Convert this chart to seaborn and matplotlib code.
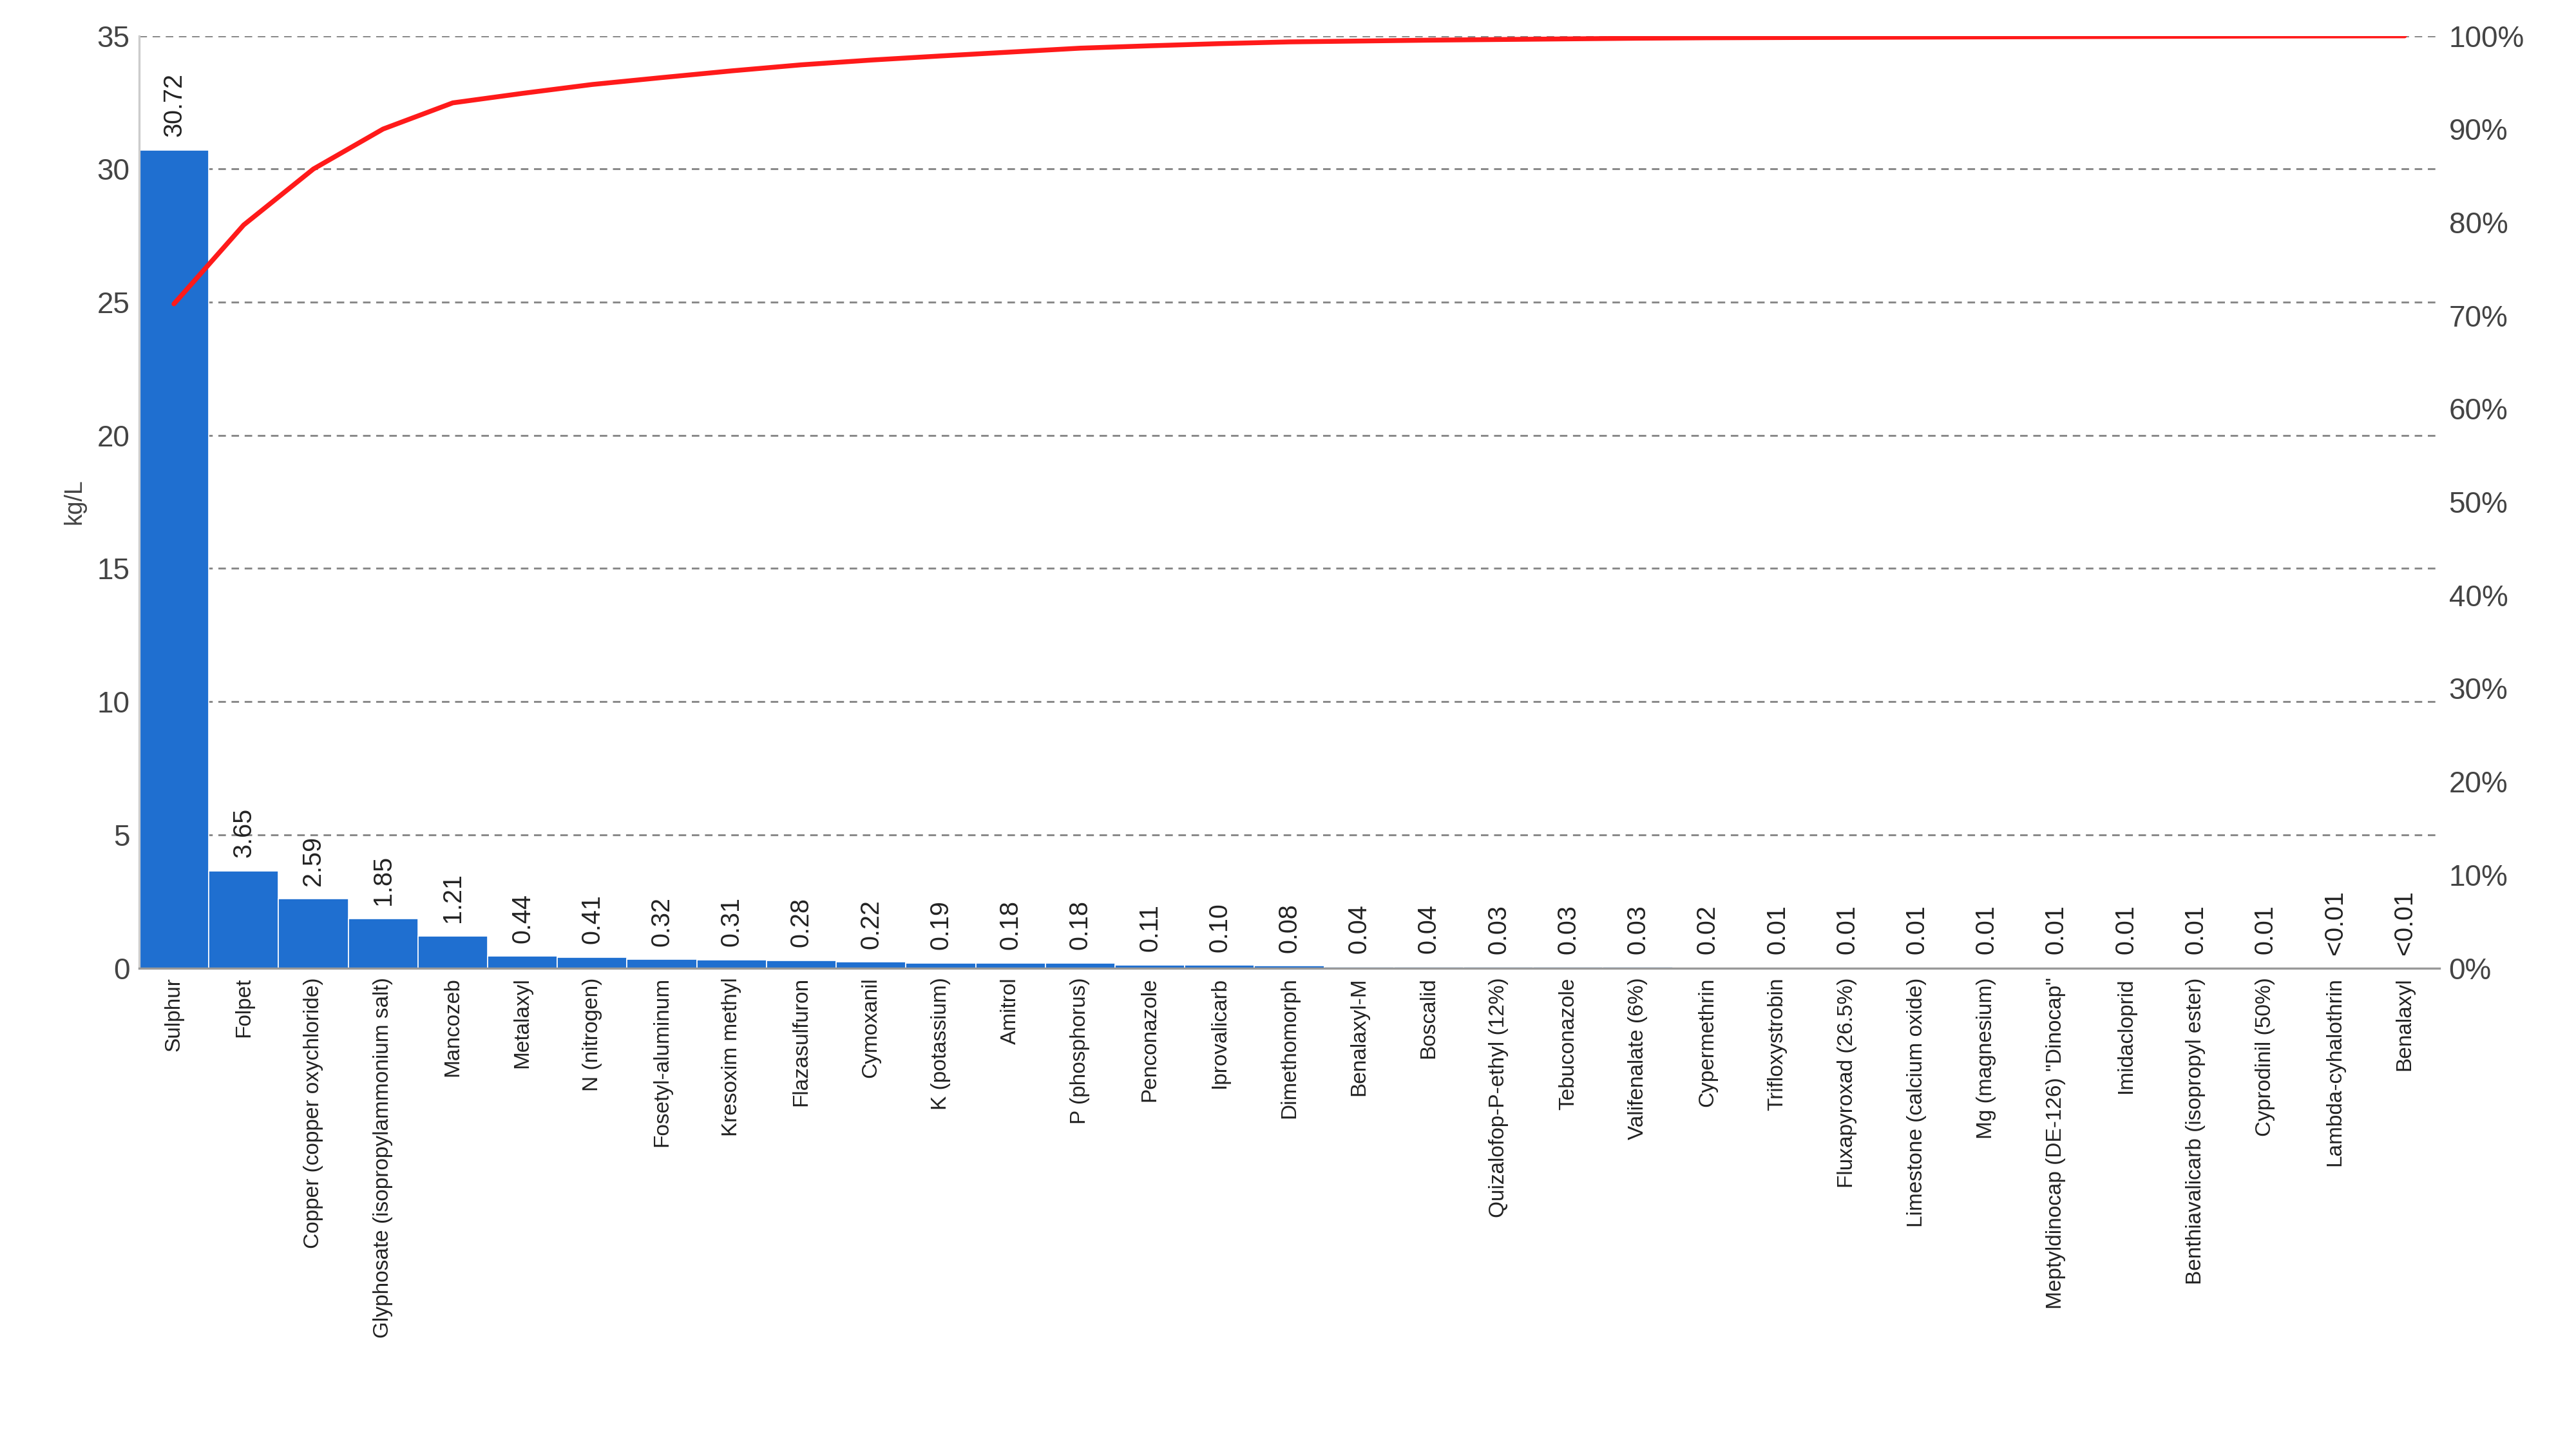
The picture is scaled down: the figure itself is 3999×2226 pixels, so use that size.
import matplotlib
matplotlib.use("Agg")
import matplotlib.pyplot as plt
import numpy as np
import pandas as pd
import seaborn as sns

substances = [
    "Sulphur", "Folpet", "Copper (copper oxychloride)", "Glyphosate (isopropylammonium salt)",
    "Mancozeb", "Metalaxyl", "N (nitrogen)", "Fosetyl-aluminum", "Kresoxim methyl",
    "Flazasulfuron", "Cymoxanil", "K (potassium)", "Amitrol", "P (phosphorus)",
    "Penconazole", "Iprovalicarb", "Dimethomorph", "Benalaxyl-M", "Boscalid",
    "Quizalofop-P-ethyl (12%)", "Tebuconazole", "Valifenalate (6%)", "Cypermethrin",
    "Trifloxystrobin", "Fluxapyroxad (26.5%)", "Limestone (calcium oxide)",
    "Mg (magnesium)", "Meptyldinocap (DE-126) \"Dinocap\"", "Imidacloprid",
    "Benthiavalicarb (isopropyl ester)", "Cyprodinil (50%)", "Lambda-cyhalothrin", "Benalaxyl",
]
values = [30.72, 3.65, 2.59, 1.85, 1.21, 0.44, 0.41, 0.32, 0.31, 0.28, 0.22, 0.19,
          0.18, 0.18, 0.11, 0.10, 0.08, 0.04, 0.04, 0.03, 0.03, 0.03, 0.02, 0.01,
          0.01, 0.01, 0.01, 0.01, 0.01, 0.01, 0.01, 0.005, 0.005]
value_labels = ["30.72", "3.65", "2.59", "1.85", "1.21", "0.44", "0.41", "0.32", "0.31",
                "0.28", "0.22", "0.19", "0.18", "0.18", "0.11", "0.10", "0.08", "0.04",
                "0.04", "0.03", "0.03", "0.03", "0.02", "0.01", "0.01", "0.01", "0.01",
                "0.01", "0.01", "0.01", "0.01", "<0.01", "<0.01"]

df = pd.DataFrame({"substance": substances, "value": values})
df["cum_pct"] = df["value"].cumsum() / df["value"].sum() * 100

sns.set_style("white")
plt.rcParams["font.family"] = ["Liberation Sans Narrow", "Liberation Sans", "DejaVu Sans"]
plt.rcParams["font.size"] = 9

fig = plt.figure(figsize=(13.33, 7.42))
ax = fig.add_axes([0.054, 0.325, 0.893, 0.65])
sns.barplot(data=df, x="substance", y="value", color="#1f6fd0", width=1.0,
            saturation=1, edgecolor="white", linewidth=0.4, ax=ax)
ax.set_ylim(0, 35)
ax.set_xlim(-0.5, len(df) - 0.5)
ax.set_yticks(range(0, 36, 5))
ax.yaxis.grid(True, linestyle=(0, (4, 3)), color="#888888", linewidth=0.7)
ax.set_axisbelow(True)
ax.set_xlabel("")
ax.set_ylabel("kg/L", color="#444444")
ax.tick_params(axis="x", rotation=90, length=0, labelsize=8, colors="#222222")
ax.tick_params(axis="y", length=0, labelsize=11, colors="#444444")
for s in ["top", "right"]:
    ax.spines[s].set_visible(False)
ax.spines["left"].set_color("#cccccc")
ax.spines["bottom"].set_color("#999999")

for i, (v, lab) in enumerate(zip(df["value"], value_labels)):
    y = max(v, 0.0) + 0.5
    ax.text(i, y, lab, rotation=90, ha="center", va="bottom", fontsize=9.5, color="#222222")

ax2 = ax.twinx()
ax2.plot(np.arange(len(df)), df["cum_pct"], color="#ff1a1a", linewidth=1.8)
ax2.set_ylim(0, 100)
ax2.set_yticks(range(0, 101, 10))
ax2.set_yticklabels([f"{t}%" for t in range(0, 101, 10)])
ax2.tick_params(axis="y", length=0, labelsize=11, colors="#444444")
for s in ax2.spines.values():
    s.set_visible(False)

fig.savefig("out.png", dpi=300)
